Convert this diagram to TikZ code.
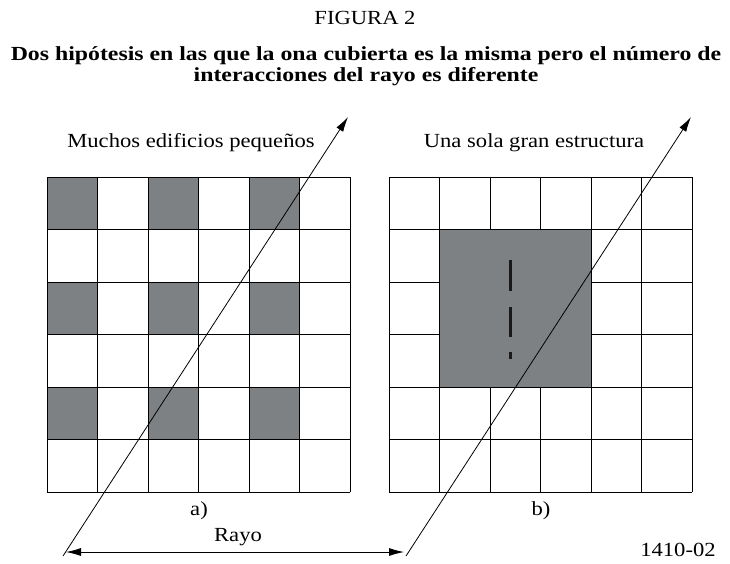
\documentclass[tikz,border=0pt]{standalone}
\usepackage{fontspec}
\setmainfont{Liberation Serif}
\usetikzlibrary{arrows.meta}
\definecolor{bldg}{RGB}{125,129,131}
\newcommand{\hstretch}[1]{\scalebox{1.13}[1]{#1}}
\newcommand{\tstretch}[1]{\scalebox{1.19}[1]{#1}}
\tikzset{
  gridline/.style={line width=1pt, draw=black},
  ray/.style={line width=0.8pt, -{Latex[length=15pt,width=8pt]}},
  span/.style={line width=0.8pt, {Latex[length=15pt,width=8pt]}-{Latex[length=15pt,width=8pt]}},
  lbl/.style={font=\fontsize{20}{22}\selectfont, inner sep=0pt},
  ttl/.style={font=\fontsize{20}{22}\selectfont\bfseries, inner sep=0pt},
  dashmark/.style={line width=3pt, draw=black!90}
}
\begin{document}
\begin{tikzpicture}[x=1pt,y=-1pt]
\useasboundingbox (0,0) rectangle (730,563);
\fill[white] (0,0) rectangle (730,563);
% titles
\node[lbl] (fig) at (365,18) {\hstretch{FIGURA 2}};
\node[ttl] (t1) at (366,56) {\tstretch{Dos hipótesis en las que la ona cubierta es la misma pero el número de}};
\node[ttl] (t2) at (366,77) {\tstretch{interacciones del rayo es diferente}};
\node[lbl] (la) at (191,143) {\hstretch{Muchos edificios pequeños}};
\node[lbl] (lb) at (534,143) {\hstretch{Una sola gran estructura}};
% grid a
\def\cw{50.5}\def\ch{52.5}
\foreach \i in {0,2,4}{
  \foreach \j in {0,2,4}{
    \fill[bldg] ({47+\i*\cw},{177+\j*\ch}) rectangle ++(\cw,\ch);
  }
}
\foreach \i in {0,...,6}{
  \draw[gridline] ({47+\i*\cw},177) -- ({47+\i*\cw},492);
  \draw[gridline] (47,{177+\i*\ch}) -- (350,{177+\i*\ch});
}
% grid b
\foreach \i in {0,...,6}{
  \draw[gridline] ({389.3+\i*\cw},177) -- ({389.3+\i*\cw},492);
  \draw[gridline] (389.3,{177+\i*\ch}) -- (692.3,{177+\i*\ch});
}
\filldraw[fill=bldg, gridline] ({389.3+\cw},{177+\ch}) rectangle ({389.3+4*\cw},{177+4*\ch});
\draw[dashmark] (510.7,260) -- (510.7,291);
\draw[dashmark] (510.7,307) -- (510.7,337);
\draw[dashmark] (510.7,352) -- (510.7,359);
% rays
\coordinate (ra0) at (63,556);
\coordinate (ra1) at (348,117);
\coordinate (rb0) at (406,556);
\coordinate (rb1) at (691,117);
\coordinate (s0) at (66,552);
\coordinate (s1) at (404,552);
\draw[ray] (ra0) -- (ra1);
\draw[ray] (rb0) -- (rb1);
\draw[span] (s0) -- (s1);
\node[lbl] (ca) at (199,511) {\hstretch{a)}};
\node[lbl] (cb) at (541,511) {\hstretch{b)}};
\node[lbl] (rayo) at (238,537) {\hstretch{Rayo}};
\node[lbl] (num) at (678,550) {\hstretch{1410-02}};
\end{tikzpicture}
\end{document}
